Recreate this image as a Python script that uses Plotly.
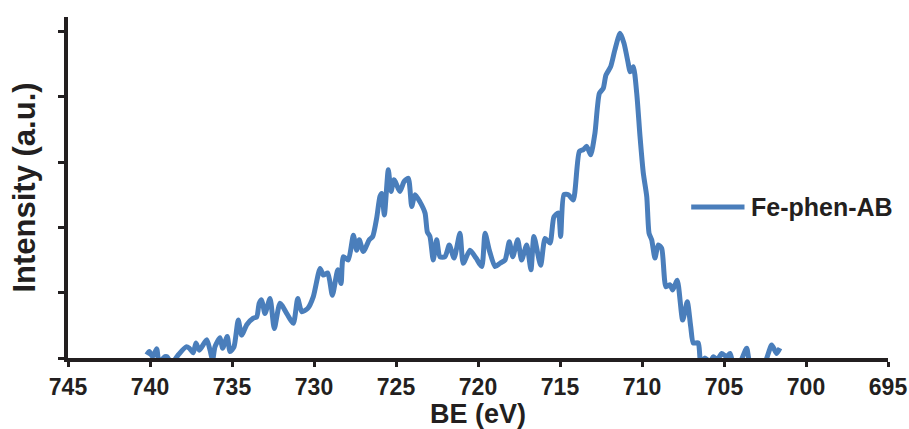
import plotly.graph_objects as go

# Fe 2p XPS spectrum of Fe-phen-AB: binding energy (eV) and intensity (a.u.)
be_ev = [
    740.20, 740.04, 739.84, 739.59, 739.45, 739.09, 738.96, 738.68, 738.27, 737.80,
    737.60, 737.36, 737.20, 736.99, 736.54, 736.34, 736.18, 736.04, 735.73, 735.57,
    735.29, 735.12, 734.88, 734.62, 734.41, 734.10, 733.70, 733.49, 733.34, 733.19,
    732.99, 732.68, 732.42, 732.07, 731.66, 731.26, 730.99, 730.75, 730.38, 730.04,
    729.63, 729.43, 729.16, 728.88, 728.55, 728.35, 728.21, 727.91, 727.60, 727.40,
    727.24, 726.99, 726.63, 726.42, 726.18, 725.98, 725.87, 725.71, 725.47, 725.30,
    725.12, 724.76, 724.51, 724.25, 724.04, 723.84, 723.54, 723.23, 723.09, 722.93,
    722.73, 722.52, 722.32, 722.01, 721.75, 721.46, 721.10, 720.90, 720.49, 720.12,
    719.77, 719.57, 719.31, 718.96, 718.66, 718.35, 718.09, 717.88, 717.58, 717.34,
    717.03, 716.77, 716.59, 716.18, 715.91, 715.61, 715.37, 715.10, 714.96, 714.76,
    714.49, 714.19, 713.82, 713.58, 713.37, 713.13, 712.87, 712.60, 712.36, 712.20,
    711.91, 711.65, 711.34, 711.10, 710.84, 710.73, 710.53, 710.32, 710.12, 709.92,
    709.71, 709.57, 709.41, 709.21, 709.01, 708.80, 708.54, 708.29, 708.13, 707.85,
    707.52, 707.24, 707.03, 706.87, 706.57, 706.42, 706.16, 705.85, 705.65, 705.41,
    705.14, 704.84, 704.63, 704.43, 704.02, 703.62, 703.41, 702.93, 702.50, 702.09,
    701.79, 701.59,
]
intensity = [
    0.05, 0.10, 0.02, 0.14, -0.06, 0.02, 0.02, -0.08, 0.05, 0.17,
    0.15, 0.08, 0.23, 0.12, 0.28, 0.12, -0.03, 0.17, 0.31, 0.15,
    0.33, 0.10, 0.17, 0.58, 0.35, 0.51, 0.61, 0.63, 0.84, 0.89,
    0.68, 0.91, 0.45, 0.84, 0.68, 0.53, 0.91, 0.71, 0.76, 0.94,
    1.37, 1.27, 1.30, 0.96, 1.35, 1.14, 1.55, 1.50, 1.88, 1.65,
    1.81, 1.63, 1.81, 1.86, 2.14, 2.47, 2.52, 2.19, 2.88, 2.55,
    2.73, 2.55, 2.70, 2.75, 2.32, 2.50, 2.39, 2.22, 1.93, 1.86,
    1.50, 1.81, 1.55, 1.55, 1.73, 1.53, 1.91, 1.45, 1.65, 1.53,
    1.40, 1.91, 1.65, 1.40, 1.45, 1.50, 1.78, 1.55, 1.81, 1.50,
    1.73, 1.35, 1.86, 1.42, 1.83, 1.76, 2.16, 2.22, 1.86, 2.50,
    2.50, 2.42, 3.16, 3.19, 3.24, 3.11, 3.44, 4.05, 4.13, 4.33,
    4.46, 4.72, 4.97, 4.82, 4.51, 4.38, 4.46, 4.05, 3.39, 2.83,
    2.47, 1.91, 1.81, 1.53, 1.73, 1.68, 1.09, 1.12, 1.04, 1.19,
    0.58, 0.86, 0.48, 0.23, 0.23, -0.06, 0.00, -0.06, 0.02, -0.03,
    0.07, 0.02, 0.07, -0.08, -0.06, 0.15, -0.08, -0.10, -0.06, 0.20,
    0.07, 0.15,
]
x_ticks = [745, 740, 735, 730, 725, 720, 715, 710, 705, 700, 695]
series_name = "Fe-phen-AB"

ink = "#231f20"
blue = "#4a7ebb"
font_family = "Liberation Sans, Arial, sans-serif"

fig = go.Figure()
fig.add_trace(go.Scatter(
    x=be_ev, y=intensity, mode="lines", name=series_name, showlegend=False,
    line=dict(color=blue, width=5, shape="spline", smoothing=0.6),
))

# Legend key drawn to the right of the peak, inside the plot area
legend_y = 0.443
fig.add_shape(
    type="line", xref="paper", yref="paper",
    x0=0.760, x1=0.825, y0=legend_y, y1=legend_y,
    line=dict(color=blue, width=5),
)
fig.add_annotation(
    xref="paper", yref="paper", x=0.830, y=legend_y,
    xanchor="left", yanchor="middle", showarrow=False,
    text=f"<b>{series_name}</b>", font=dict(size=25, color=ink),
)

fig.update_layout(
    width=909, height=429,
    margin=dict(l=68, r=21, t=17, b=71),
    paper_bgcolor="white", plot_bgcolor="white",
    font=dict(family=font_family, color=ink),
    showlegend=False,
    xaxis=dict(
        range=[745, 695], tickmode="array", tickvals=x_ticks,
        ticktext=[f"<b>{v}</b>" for v in x_ticks],
        tickfont=dict(size=23, color=ink),
        showline=True, linecolor=ink, linewidth=4,
        ticks="outside", ticklen=5, tickwidth=3, tickcolor=ink,
        showgrid=False, zeroline=False, automargin=False,
        title=dict(text="<b>BE (eV)</b>", font=dict(size=27, color=ink), standoff=10),
    ),
    yaxis=dict(
        range=[0, 5.22], tickmode="linear", tick0=0, dtick=1,
        showticklabels=False,
        showline=True, linecolor=ink, linewidth=4,
        ticks="outside", ticklen=6, tickwidth=3, tickcolor=ink,
        showgrid=False, zeroline=False, automargin=False,
        title=dict(text="<b>Intensity (a.u.)</b>", font=dict(size=31, color=ink), standoff=14),
    ),
)

fig.write_html("out.html")
